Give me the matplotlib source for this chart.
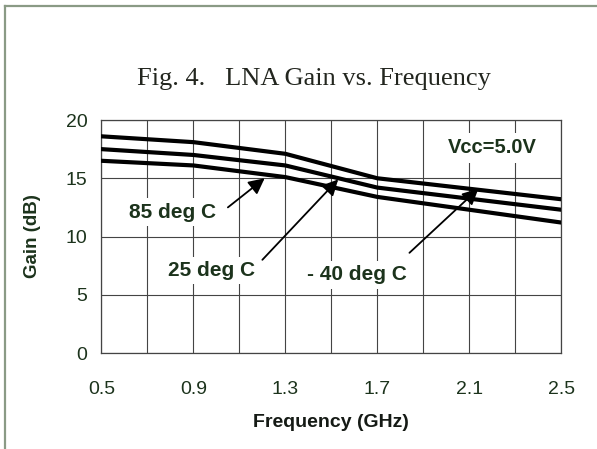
import matplotlib.pyplot as plt
from matplotlib.lines import Line2D

# Gain readings (dB) at the curve break points
freq = [0.5, 0.9, 1.3, 1.7, 2.5]
gain_m40 = [18.6, 18.1, 17.1, 15.0, 13.2]
gain_25 = [17.5, 17.0, 16.1, 14.2, 12.3]
gain_85 = [16.5, 16.1, 15.1, 13.4, 11.2]

xticks = [0.5, 0.9, 1.3, 1.7, 2.1, 2.5]
yticks = [0, 5, 10, 15, 20]

# callouts: label, text position, arrow tail, arrow tip
labels = ['85 deg C', '25 deg C', '- 40 deg C']
text_pos = [(0.81, 12.1), (0.98, 7.1), (1.61, 6.7)]
tails = [(1.05, 12.5), (1.20, 8.0), (1.84, 8.6)]
tips = [(1.21, 15.0), (1.53, 14.9), (2.14, 14.1)]

txt_col = '#1c331c'
plt.rcParams['font.family'] = ['Liberation Sans', 'DejaVu Sans']

fig = plt.figure(figsize=(5.97, 4.49), dpi=100)
ax = fig.add_axes([0.170, 0.2138, 0.7699, 0.5189])

for g in [gain_m40, gain_25, gain_85]:
    ax.plot(freq, g, color='black', lw=3.0, solid_joinstyle='round', zorder=3)

ax.set_xlim(0.5, 2.5)
ax.set_ylim(0, 20)
ax.set_xticks(xticks)
ax.set_xticks([0.7, 1.1, 1.5, 1.9, 2.3], minor=True)
ax.set_yticks(yticks)
ax.grid(True, which='both', color='#444444', lw=0.8)
ax.tick_params(which='both', length=0)
ax.tick_params(axis='x', pad=20, labelsize=14, labelcolor=txt_col)
ax.tick_params(axis='y', pad=10, labelsize=14, labelcolor=txt_col)
for s in ax.spines.values():
    s.set_color('#444444')
    s.set_linewidth(0.9)

ax.set_xlabel('Frequency (GHz)', fontsize=14, fontweight='bold', color='#151a15', labelpad=12)
ax.set_ylabel('Gain (dB)', fontsize=13.5, fontweight='bold', color=txt_col, labelpad=18)

for lab, tp, tl, tip in zip(labels, text_pos, tails, tips):
    ax.annotate('', xy=tip, xytext=tl,
                arrowprops=dict(arrowstyle='-|>', mutation_scale=24, lw=1.3,
                                color='black', shrinkA=0, shrinkB=0), zorder=4)
    ax.text(tp[0], tp[1], lab, ha='center', va='center', fontsize=15, fontweight='bold',
            color=txt_col, zorder=5,
            bbox=dict(facecolor='white', edgecolor='none', pad=3))

ax.text(2.2, 17.6, 'Vcc=5.0V', ha='center', va='center', fontsize=14.5, fontweight='bold',
        color=txt_col, zorder=5, bbox=dict(facecolor='white', edgecolor='none', pad=4))

fig.text(314 / 597, 1 - 85 / 449, 'Fig. 4.   LNA Gain vs. Frequency', ha='center',
         va='baseline', fontsize=19, family='Liberation Serif', color='#23261f')

# page frame (left and top edge)
fig.add_artist(Line2D([5 / 597, 5 / 597], [0, 1 - 6 / 449], transform=fig.transFigure,
                      color='#8a9a85', lw=1.6))
fig.add_artist(Line2D([5 / 597, 1], [1 - 6 / 449, 1 - 6 / 449], transform=fig.transFigure,
                      color='#8a9a85', lw=1.6))

fig.savefig('out.png', dpi=100, facecolor='white')
